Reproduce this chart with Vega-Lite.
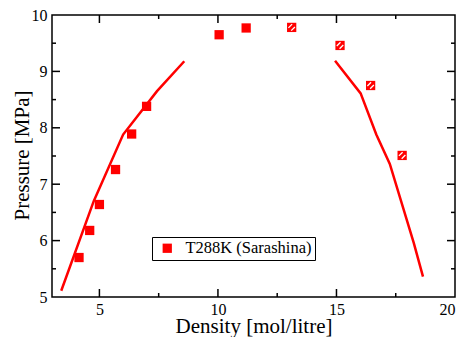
{
  "$schema": "https://vega.github.io/schema/vega-lite/v6.json",
  "autosize": {"type": "none"},
  "padding": {"left": 52, "top": 15, "right": 12, "bottom": 40},
  "width": 403,
  "height": 282,
  "background": "white",
  "config": {
    "font": "Liberation Serif",
    "view": {"stroke": "#000", "strokeWidth": 1.5},
    "axis": {
      "grid": false,
      "ticks": false,
      "domain": false,
      "labelFont": "Liberation Serif",
      "labelFontSize": 16,
      "labelColor": "#000",
      "titleFont": "Liberation Serif",
      "titleFontSize": 21,
      "titleFontWeight": "normal",
      "titleColor": "#000"
    },
    "legend": {
      "orient": "none",
      "legendX": 100,
      "legendY": 222,
      "strokeColor": "#000",
      "fillColor": "#fff",
      "padding": 3,
      "symbolType": "square",
      "symbolSize": 86,
      "symbolOffset": 4,
      "labelFont": "Liberation Serif",
      "labelFontSize": 16.5,
      "labelColor": "#000",
      "labelOffset": 10
    }
  },
  "datasets": {
    "leftLine": [
      {"density": 3.39, "pressure": 5.11},
      {"density": 4.76, "pressure": 6.70},
      {"density": 6.0, "pressure": 7.88},
      {"density": 7.43, "pressure": 8.65},
      {"density": 8.58, "pressure": 9.18}
    ],
    "rightLine": [
      {"density": 14.94, "pressure": 9.19},
      {"density": 16.02, "pressure": 8.61},
      {"density": 16.68, "pressure": 7.88},
      {"density": 17.25, "pressure": 7.36},
      {"density": 18.26, "pressure": 5.96},
      {"density": 18.65, "pressure": 5.36}
    ],
    "filled": [
      {"density": 4.14, "pressure": 5.70, "series": "T288K (Sarashina)"},
      {"density": 4.59, "pressure": 6.18, "series": "T288K (Sarashina)"},
      {"density": 5.0, "pressure": 6.64, "series": "T288K (Sarashina)"},
      {"density": 5.68, "pressure": 7.26, "series": "T288K (Sarashina)"},
      {"density": 6.36, "pressure": 7.89, "series": "T288K (Sarashina)"},
      {"density": 6.99, "pressure": 8.38, "series": "T288K (Sarashina)"},
      {"density": 10.05, "pressure": 9.65, "series": "T288K (Sarashina)"},
      {"density": 11.19, "pressure": 9.77, "series": "T288K (Sarashina)"}
    ],
    "hatched": [
      {"density": 13.11, "pressure": 9.78},
      {"density": 15.15, "pressure": 9.46},
      {"density": 16.44, "pressure": 8.75},
      {"density": 17.77, "pressure": 7.51}
    ],
    "bottomMajor": [{"density": 5, "pressure": 5}, {"density": 10, "pressure": 5}, {"density": 15, "pressure": 5}],
    "bottomMinor": [{"density": 7.5, "pressure": 5}, {"density": 12.5, "pressure": 5}, {"density": 17.5, "pressure": 5}],
    "topMajor": [{"density": 5, "pressure": 10}, {"density": 10, "pressure": 10}, {"density": 15, "pressure": 10}],
    "topMinor": [{"density": 7.5, "pressure": 10}, {"density": 12.5, "pressure": 10}, {"density": 17.5, "pressure": 10}],
    "leftMajor": [{"density": 3, "pressure": 6}, {"density": 3, "pressure": 7}, {"density": 3, "pressure": 8}, {"density": 3, "pressure": 9}],
    "leftMinor": [{"density": 3, "pressure": 5.5}, {"density": 3, "pressure": 6.5}, {"density": 3, "pressure": 7.5}, {"density": 3, "pressure": 8.5}, {"density": 3, "pressure": 9.5}],
    "rightMajor": [{"density": 20, "pressure": 6}, {"density": 20, "pressure": 7}, {"density": 20, "pressure": 8}, {"density": 20, "pressure": 9}],
    "rightMinor": [{"density": 20, "pressure": 5.5}, {"density": 20, "pressure": 6.5}, {"density": 20, "pressure": 7.5}, {"density": 20, "pressure": 8.5}, {"density": 20, "pressure": 9.5}]
  },
  "encoding": {
    "x": {"field": "density", "type": "quantitative",
      "scale": {"domain": [3, 20], "nice": false, "zero": false},
      "axis": {"orient": "bottom", "values": [5, 10, 15, 20], "labelPadding": 4,
        "title": "Density [mol/litre]", "titleY": 35, "titleBaseline": "alphabetic"}},
    "y": {"field": "pressure", "type": "quantitative",
      "scale": {"domain": [5, 10], "nice": false, "zero": false},
      "axis": {"orient": "left", "values": [5, 6, 7, 8, 9, 10], "labelPadding": 5,
        "title": "Pressure [MPa]", "titleX": -24, "titleY": 140, "titleAngle": -90, "titleAlign": "center", "titleBaseline": "alphabetic"}}
  },
  "layer": [
    {"data": {"name": "bottomMajor"}, "mark": {"type": "point", "shape": "M0,0L0,-1", "size": 256, "filled": false, "stroke": "#000", "strokeWidth": 1.5, "opacity": 1}},
    {"data": {"name": "bottomMinor"}, "mark": {"type": "point", "shape": "M0,0L0,-1", "size": 64, "filled": false, "stroke": "#000", "strokeWidth": 1.5, "opacity": 1}},
    {"data": {"name": "topMajor"}, "mark": {"type": "point", "shape": "M0,0L0,1", "size": 256, "filled": false, "stroke": "#000", "strokeWidth": 1.5, "opacity": 1}},
    {"data": {"name": "topMinor"}, "mark": {"type": "point", "shape": "M0,0L0,1", "size": 64, "filled": false, "stroke": "#000", "strokeWidth": 1.5, "opacity": 1}},
    {"data": {"name": "leftMajor"}, "mark": {"type": "point", "shape": "M0,0L1,0", "size": 256, "filled": false, "stroke": "#000", "strokeWidth": 1.5, "opacity": 1}},
    {"data": {"name": "leftMinor"}, "mark": {"type": "point", "shape": "M0,0L1,0", "size": 64, "filled": false, "stroke": "#000", "strokeWidth": 1.5, "opacity": 1}},
    {"data": {"name": "rightMajor"}, "mark": {"type": "point", "shape": "M0,0L-1,0", "size": 256, "filled": false, "stroke": "#000", "strokeWidth": 1.5, "opacity": 1}},
    {"data": {"name": "rightMinor"}, "mark": {"type": "point", "shape": "M0,0L-1,0", "size": 64, "filled": false, "stroke": "#000", "strokeWidth": 1.5, "opacity": 1}},
    {
      "data": {"name": "leftLine"},
      "mark": {"type": "line", "color": "#ff0000", "strokeWidth": 2.5}
    },
    {
      "data": {"name": "rightLine"},
      "mark": {"type": "line", "color": "#ff0000", "strokeWidth": 2.5}
    },
    {
      "data": {"name": "filled"},
      "mark": {"type": "point", "shape": "square", "filled": true, "size": 86, "opacity": 1},
      "encoding": {
        "color": {"field": "series", "type": "nominal", "scale": {"range": ["#ff0000"]}, "legend": {"title": null}}
      }
    },
    {
      "data": {"name": "hatched"},
      "mark": {"type": "point", "shape": "square", "filled": true, "size": 86, "opacity": 1, "color": "#ff0000"}
    },
    {
      "data": {"name": "hatched"},
      "mark": {"type": "point", "shape": "M-0.7,0.1L0.1,-0.7M-0.1,0.7L0.7,-0.1", "filled": false, "size": 86, "opacity": 1, "color": "#ffffff", "strokeWidth": 1.3}
    }
  ]
}
